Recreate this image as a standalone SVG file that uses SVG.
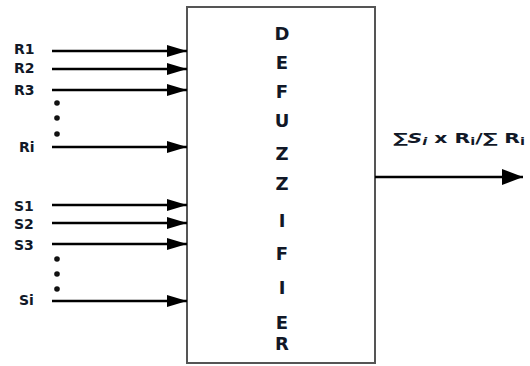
<svg xmlns="http://www.w3.org/2000/svg" width="530" height="366" viewBox="0 0 530 366">
<style>
.lbl{font-family:"DejaVu Sans","Verdana",sans-serif;font-weight:bold;font-size:14px;fill:#111827}
.big{font-family:"DejaVu Sans","Verdana",sans-serif;font-weight:bold;font-size:18px;fill:#111827;text-anchor:middle}
.wire{stroke:#000;stroke-width:2.5;fill:none;marker-end:url(#ah)}
.dot{fill:#111}
</style>
<defs>
<marker id="ah" viewBox="0 0 10 10" refX="10" refY="5" markerWidth="20" markerHeight="12" markerUnits="userSpaceOnUse" orient="auto" preserveAspectRatio="none">
<path d="M0,0 L10,5 L0,10 Z" fill="#000"/>
</marker>
<marker id="ah2" viewBox="0 0 10 10" refX="10" refY="5" markerWidth="21" markerHeight="16" markerUnits="userSpaceOnUse" orient="auto" preserveAspectRatio="none">
<path d="M0,0 L10,5 L0,10 Z" fill="#000"/>
</marker>
</defs>
<rect width="530" height="366" fill="#fff"/>
<g id="defuzzifier">
<rect x="187" y="7" width="188" height="356" fill="#fff" stroke="#555" stroke-width="2"/>
<text class="big" x="282" y="40">D</text>
<text class="big" x="282" y="69">E</text>
<text class="big" x="282" y="98">F</text>
<text class="big" x="282" y="127">U</text>
<text class="big" x="282" y="160">Z</text>
<text class="big" x="282" y="190">Z</text>
<text class="big" x="282" y="227">I</text>
<text class="big" x="282" y="260">F</text>
<text class="big" x="282" y="294">I</text>
<text class="big" x="282" y="329">E</text>
<text class="big" x="282" y="350">R</text>
</g>
<g id="inputs">
<text class="lbl" x="14" y="54">R1</text>
<text class="lbl" x="14" y="73">R2</text>
<text class="lbl" x="14" y="95">R3</text>
<text class="lbl" x="19" y="152">Ri</text>
<text class="lbl" x="14" y="211">S1</text>
<text class="lbl" x="14" y="229">S2</text>
<text class="lbl" x="14" y="250">S3</text>
<text class="lbl" x="19" y="305">Si</text>
<circle class="dot" cx="57" cy="103" r="2.8"/>
<circle class="dot" cx="57" cy="118" r="2.8"/>
<circle class="dot" cx="57" cy="134" r="2.8"/>
<circle class="dot" cx="57" cy="259" r="2.8"/>
<circle class="dot" cx="57" cy="274" r="2.8"/>
<circle class="dot" cx="57" cy="289" r="2.8"/>
</g>
<g id="output-label">
<text class="lbl" x="393" y="143" font-size="15" textLength="132" lengthAdjust="spacingAndGlyphs">∑<tspan font-style="italic">S</tspan><tspan font-style="italic" font-size="10" dy="2">i</tspan><tspan dy="-2"> x R</tspan><tspan font-size="10" dy="2">i</tspan><tspan dy="-2">/∑ R</tspan><tspan font-size="10" dy="2">i</tspan></text>
</g>
<g id="connectors">
<line class="wire" x1="52" y1="51" x2="187" y2="51"/>
<line class="wire" x1="52" y1="69" x2="187" y2="69"/>
<line class="wire" x1="52" y1="90" x2="187" y2="90"/>
<line class="wire" x1="52" y1="147" x2="187" y2="147"/>
<line class="wire" x1="52" y1="205" x2="187" y2="205"/>
<line class="wire" x1="52" y1="223" x2="187" y2="223"/>
<line class="wire" x1="52" y1="244" x2="187" y2="244"/>
<line class="wire" x1="52" y1="301" x2="187" y2="301"/>
<line x1="375" y1="177" x2="523" y2="177" stroke="#000" stroke-width="2.5" marker-end="url(#ah2)"/>
</g>
</svg>
